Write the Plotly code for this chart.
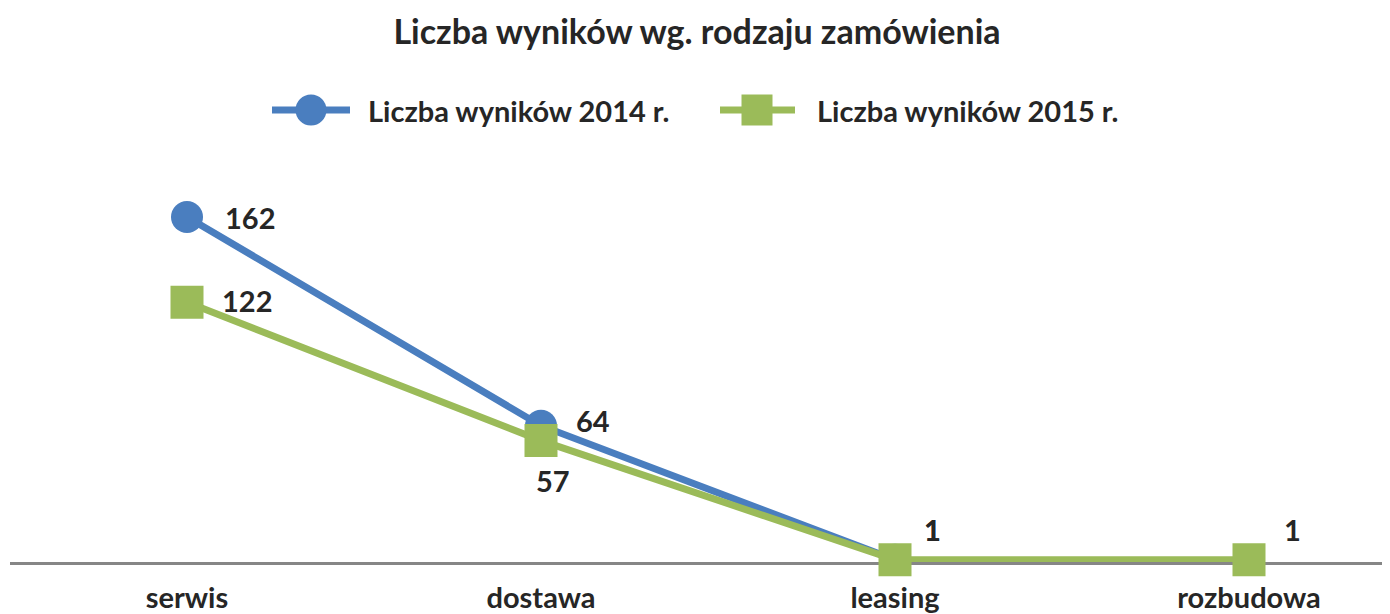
import plotly.graph_objects as go

categories = ["serwis", "dostawa", "leasing", "rozbudowa"]
values_2014 = [162, 64, 1, None]
values_2015 = [122, 57, 1, 1]
series_names = ["Liczba wyników 2014 r.", "Liczba wyników 2015 r."]
title_text = "Liczba wyników wg. rodzaju zamówienia"

BLUE = "#4A7EBF"
GREEN = "#9BBB59"
TEXT = "#262626"
FONT = "Lato"

# page body has an 8px margin; the figure is sized/positioned to compensate
OFF = 8
W, H = 1390 - OFF, 614 - OFF
ML, MR, MT, MB = 2, 5, 181, 52
PW, PH = W - ML - MR, H - MT - MB
PX_PER_UNIT = 345 / 162.0

# label offsets in pixels (dx, dy) per point
off_2014 = [(63, 0), (52, 5), (37, 30), None]
off_2015 = [(60, 2), (12, -40), (37, 30), (43, 30)]

fig = go.Figure()
fig.add_trace(go.Scatter(
    x=categories, y=values_2014, mode="lines+markers", name=series_names[0],
    line=dict(color=BLUE, width=7), marker=dict(symbol="circle", size=32, color=BLUE),
    cliponaxis=False, showlegend=False, connectgaps=False))
fig.add_trace(go.Scatter(
    x=categories, y=values_2015, mode="lines+markers", name=series_names[1],
    line=dict(color=GREEN, width=7), marker=dict(symbol="square", size=33, color=GREEN),
    cliponaxis=False, showlegend=False))

annotations = []
for vals, offs in ((values_2014, off_2014), (values_2015, off_2015)):
    for c, v, o in zip(categories, vals, offs):
        if v is None or o is None:
            continue
        annotations.append(dict(
            x=c, y=v, xref="x", yref="y", text=str(v), showarrow=False,
            xanchor="center", yanchor="middle", xshift=o[0], yshift=o[1],
            font=dict(family=FONT, size=29, color=TEXT, weight="bold")))

def px_x(p):
    return (p - OFF - ML) / PW

def px_y(p):
    return (H - MB - (p - OFF)) / PH

shapes = []
legend_items = [(series_names[0], BLUE, "circle", 272, 350, 311, 366),
                (series_names[1], GREEN, "square", 720, 795, 757, 815)]
for name, col, sym, x0, x1, xc, xt in legend_items:
    yc = 110
    shapes.append(dict(type="line", xref="paper", yref="paper",
                       x0=px_x(x0), x1=px_x(x1), y0=px_y(yc), y1=px_y(yc),
                       line=dict(color=col, width=7)))
    r = 15.5
    shapes.append(dict(type="circle" if sym == "circle" else "rect",
                       xref="paper", yref="paper",
                       xsizemode="pixel", ysizemode="pixel",
                       xanchor=px_x(xc), yanchor=px_y(yc),
                       x0=-r, x1=r, y0=-r, y1=r,
                       fillcolor=col, line=dict(width=0)))
    annotations.append(dict(x=px_x(xt), y=px_y(yc), xref="paper", yref="paper",
                            text=name, showarrow=False, xanchor="left", yanchor="middle",
                            font=dict(family=FONT, size=29, color=TEXT, weight="bold")))

fig.update_layout(
    width=W, height=H, autosize=False,
    margin=dict(l=ML, r=MR, t=MT, b=MB, pad=0, autoexpand=False),
    paper_bgcolor="white", plot_bgcolor="white",
    title=dict(text=title_text, x=(697 - OFF) / W, xref="container", xanchor="center",
               y=1 - (32 - OFF) / H, yref="container", yanchor="middle",
               font=dict(family=FONT, size=34, color=TEXT, weight="bold")),
    xaxis=dict(type="category", range=[-0.5, -0.5 + PW / 354.0], automargin=False,
               showline=True, linecolor="#868686", linewidth=3,
               showgrid=False, zeroline=False, ticks="", layer="below traces",
               ticklabelstandoff=8,
               tickfont=dict(family=FONT, size=29, color=TEXT, weight="bold")),
    yaxis=dict(range=[0, PH / PX_PER_UNIT], visible=False, automargin=False,
               showgrid=False, zeroline=False),
    shapes=shapes, annotations=annotations, showlegend=False,
)

fig.write_html("out.html")
